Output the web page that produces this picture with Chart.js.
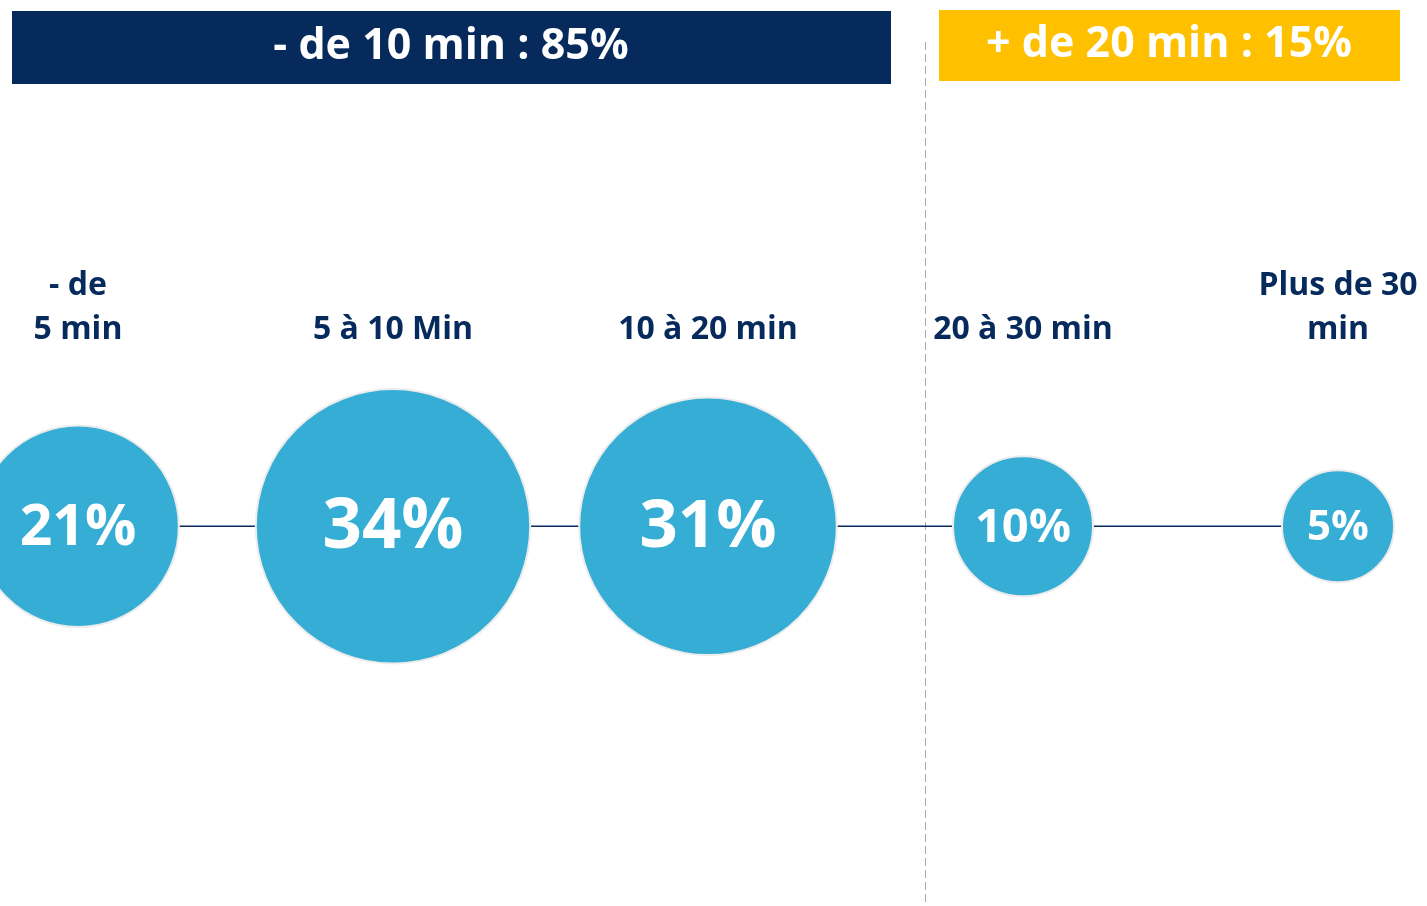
<!DOCTYPE html>
<html>
<head>
<meta charset="utf-8">
<script src="https://cdn.jsdelivr.net/npm/chart.js@4"></script>
<style>
  html, body { margin: 0; padding: 0; background: #fff; }
  #wrap { width: 1427px; height: 906px; position: relative; }
</style>
</head>
<body>
<div id="wrap"><canvas id="chart"></canvas></div>
<script>
const categories = [['- de', '5 min'], '5 à 10 Min', '10 à 20 min', '20 à 30 min', ['Plus de 30', 'min']];
const shares = [21, 34, 31, 10, 5];
const groupLabels = ['- de 10 min : 85%', '+ de 20 min : 15%'];

const NAVY = '#062a5c';
const YELLOW = '#ffc000';
const BLUE = '#35add5';
const FONT = "'Open Sans', sans-serif";

// bubbles may spill past the chart area, don't reserve room for them
Chart.BubbleController.prototype.getMaxOverflow = () => 0;

// bubble size grows with the share
const radiusFor = (v) => 42 + 2.8 * v;

const decor = {
  id: 'decor',
  beforeDatasetsDraw (chart) {
    const { ctx } = chart;
    ctx.save();
    // header boxes
    ctx.fillStyle = NAVY;
    ctx.fillRect(12, 11, 879, 73);
    ctx.fillStyle = YELLOW;
    ctx.fillRect(939, 10, 461, 71);
    ctx.fillStyle = '#fff';
    ctx.font = `700 43px ${FONT}`;
    ctx.textAlign = 'center';
    ctx.textBaseline = 'middle';
    ctx.fillText(groupLabels[0], 451, 47);
    ctx.fillText(groupLabels[1], 1169, 45);

    // dashed separator between the two groups
    ctx.strokeStyle = '#aaaaaa';
    ctx.lineWidth = 1;
    ctx.setLineDash([8, 4]);
    ctx.beginPath();
    ctx.moveTo(925.5, 42);
    ctx.lineTo(925.5, 906);
    ctx.stroke();
    ctx.restore();
  },
  afterDatasetsDraw (chart) {
    const { ctx } = chart;
    const meta = chart.getDatasetMeta(0);
    ctx.save();
    ctx.fillStyle = '#fff';
    ctx.textAlign = 'center';
    ctx.textBaseline = 'middle';
    meta.data.forEach((el, i) => {
      const r = el.options.radius;
      ctx.font = `700 ${Math.round(24 + 0.33 * r)}px ${FONT}`;
      ctx.fillText(shares[i] + '%', el.x, el.y + 2);
    });
    ctx.restore();
  },
};

new Chart(document.getElementById('chart'), {
  data: {
    labels: categories,
    datasets: [
      {
        type: 'bubble',
        order: 0,
        clip: false,
        data: shares.map((v, i) => ({ x: i, y: 0, v })),
        backgroundColor: BLUE,
        borderColor: '#ececec',
        borderWidth: 2,
        radius: (ctx) => radiusFor(ctx.raw ? ctx.raw.v : 0),
      },
      {
        type: 'line',
        order: 1,
        clip: false,
        data: shares.map(() => 0),
        borderColor: NAVY,
        borderWidth: 1.5,
        pointRadius: 0,
      },
    ],
  },
  options: {
    responsive: true,
    maintainAspectRatio: false,
    animation: false,
    events: [],
    layout: { padding: { top: 253, left: 78, right: 89, bottom: 216 } },
    plugins: {
      legend: { display: false },
      tooltip: { enabled: false },
    },
    scales: {
      x: {
        type: 'category',
        position: 'top',
        offset: false,
        grid: { display: false, drawTicks: false },
        border: { display: false },
        afterFit: (scale) => {
          scale.paddingLeft = 0;
          scale.paddingRight = 0;
        },
        ticks: {
          color: NAVY,
          padding: 10,
          maxRotation: 0,
          autoSkip: false,
          font: { family: FONT, size: 32, weight: '700', lineHeight: 1.4 },
        },
      },
      y: {
        display: false,
        min: -1,
        max: 1,
      },
    },
  },
  plugins: [decor],
});
</script>
</body>
</html>
